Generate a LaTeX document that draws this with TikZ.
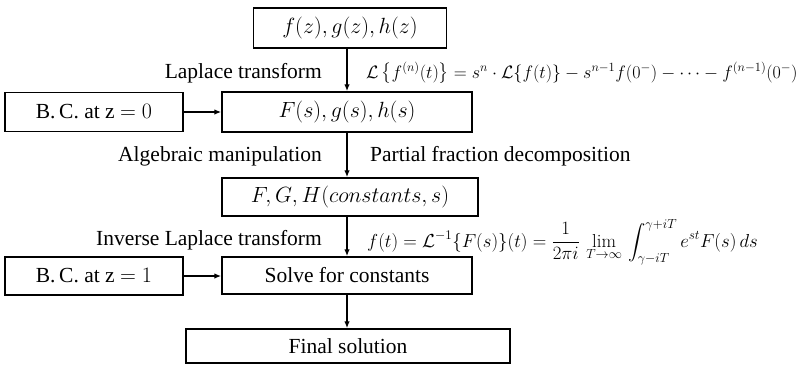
\RequirePackage{fix-cm}
\documentclass[tikz,border=0pt]{standalone}
\usepackage{amsmath}
\usepackage{fontspec}
\newfontfamily\labfont{Liberation Serif}
\usetikzlibrary{arrows.meta}
\begin{document}
\begin{tikzpicture}[x=1pt,y=-1pt,
  box/.style={draw, line width=1.5pt, inner sep=0pt, font=\labfont\fontsize{21.5}{26}\selectfont},
  mbox/.style={box, font=\fontsize{22}{26}\selectfont},
  lab/.style={inner sep=0pt, font=\labfont\fontsize{21.5}{26}\selectfont},
  eq/.style={inner sep=0pt, font=\fontsize{18}{22}\selectfont},
  eqb/.style={inner sep=0pt, font=\fontsize{18.8}{23}\selectfont},
  arr/.style={-{Latex[length=7pt,width=5.5pt]}, line width=1.3pt}]
\useasboundingbox (0,0) rectangle (797,364);

\node[mbox, minimum width=193pt, minimum height=40pt] (b1) at (350,28) {$f(z), g(z), h(z)$};
\node[mbox, minimum width=250pt, minimum height=40pt] (b2) at (347,112) {$F(s), g(s), h(s)$};
\node[box, minimum width=178pt, minimum height=39pt] (bc0) at (94,112) {B.\,C. at z {\fontsize{22}{26}\selectfont$=0$}};
\node[mbox, minimum width=256pt, minimum height=38pt] (b3) at (350,197) {$F, G, H(constants, s)$};
\node[box, minimum width=178pt, minimum height=38pt] (bc1) at (94,276) {B.\,C. at z {\fontsize{22}{26}\selectfont$=1$}};
\node[box, minimum width=250pt, minimum height=37pt] (b4) at (347,275.5) {Solve for constants};
\node[box, minimum width=324pt, minimum height=34pt] (b5) at (348,346) {Final solution};

\node[lab, anchor=east] (l1) at (322,73) {Laplace transform};
\node[eq, anchor=west] (e1) at (366,73) {$\mathcal{L}\left\{f^{(n)}(t)\right\} = s^n\cdot\mathcal{L}\{f(t)\} - s^{n-1}f(0^-) - \cdots - f^{(n-1)}(0^-)$};
\node[lab, anchor=east] (l2) at (322,156) {Algebraic manipulation};
\node[lab, anchor=west] (l3) at (370,156) {Partial fraction decomposition};
\node[lab, anchor=east] (l4) at (322,240) {Inverse Laplace transform};
\node[eqb, anchor=west] (e2) at (367,242) {$\displaystyle f(t) = \mathcal{L}^{-1}\{F(s)\}(t) = \frac{1}{2\pi i}\,\lim_{T\to\infty}\,\int_{\gamma-iT}^{\gamma+iT} e^{st}F(s)\,ds$};

\draw[arr] (b1.south -| 347,0) -- (b2.north -| 347,0);
\draw[arr] (b2.south -| 347,0) -- (b3.north -| 347,0);
\draw[arr] (b3.south -| 347,0) -- (b4.north -| 347,0);
\draw[arr] (b4.south -| 347,0) -- (b5.north -| 347,0);
\draw[arr] (bc0.east) -- (b2.west |- bc0.east);
\draw[arr] (bc1.east) -- (b4.west |- bc1.east);
\end{tikzpicture}
\end{document}
